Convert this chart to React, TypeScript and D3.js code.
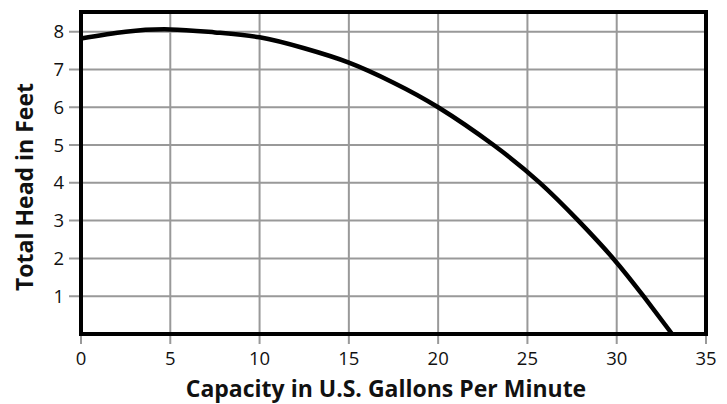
import React from "react";
import * as d3 from "d3";

const flowGpm = [0, 2.5, 5, 7.5, 10, 12.5, 15, 17.5, 20, 23.1, 25.7, 27.85, 29.8, 31.5, 33.1];
const headFt = [7.82, 8.0, 8.06, 7.98, 7.85, 7.56, 7.18, 6.65, 6.0, 5, 4, 3, 2, 1, 0];
const xTicks = [0, 5, 10, 15, 20, 25, 30, 35];
const yTicks = [1, 2, 3, 4, 5, 6, 7, 8];
const xTitle = "Capacity in U.S. Gallons Per Minute";
const yTitle = "Total Head in Feet";

const W = 727;
const H = 404;
const L = 81, R = 706, T = 12, B = 334;

export default function App() {
  const x = d3.scaleLinear().domain([0, 35]).range([L, R]);
  const y = d3.scaleLinear().domain([0, 8.52]).range([B, T]);
  const pts = flowGpm.map((f, i) => [f, headFt[i]] as [number, number]);
  const line = d3
    .line<[number, number]>()
    .x((d) => x(d[0]))
    .y((d) => y(d[1]))
    .curve(d3.curveNatural);
  const font = "'Open Sans', sans-serif";
  return (
    <svg
      width={W}
      height={H}
      style={{ position: "absolute", left: 0, top: 0, background: "#fff" }}
    >
      <g>
        {xTicks.map((t) => (
          <line key={"gx" + t} x1={x(t)} x2={x(t)} y1={T} y2={B + 10} stroke="#999" strokeWidth={2} />
        ))}
        {yTicks.map((t) => (
          <line key={"gy" + t} x1={L - 12} x2={R} y1={y(t)} y2={y(t)} stroke="#999" strokeWidth={2} />
        ))}
      </g>
      <path d={line(pts) || ""} fill="none" stroke="#000" strokeWidth={4.5} />
      <rect x={L} y={T} width={R - L} height={B - T} fill="none" stroke="#000" strokeWidth={4} />
      {xTicks.map((t) => (
        <text key={"tx" + t} x={x(t)} y={365} textAnchor="middle" fontFamily={font} fontSize={18.5} fill="#111">
          {t}
        </text>
      ))}
      {yTicks.map((t) => (
        <text key={"ty" + t} x={64} y={y(t) + 6.5} textAnchor="end" fontFamily={font} fontSize={18.5} fill="#111">
          {t}
        </text>
      ))}
      <text x={386} y={397} textAnchor="middle" fontFamily={font} fontWeight={700} fontSize={23} fill="#111">
        {xTitle}
      </text>
      <text
        transform={`translate(33, 187) rotate(-90)`}
        textAnchor="middle"
        fontFamily={font}
        fontWeight={700}
        fontSize={23}
        fill="#111"
      >
        {yTitle}
      </text>
    </svg>
  );
}
